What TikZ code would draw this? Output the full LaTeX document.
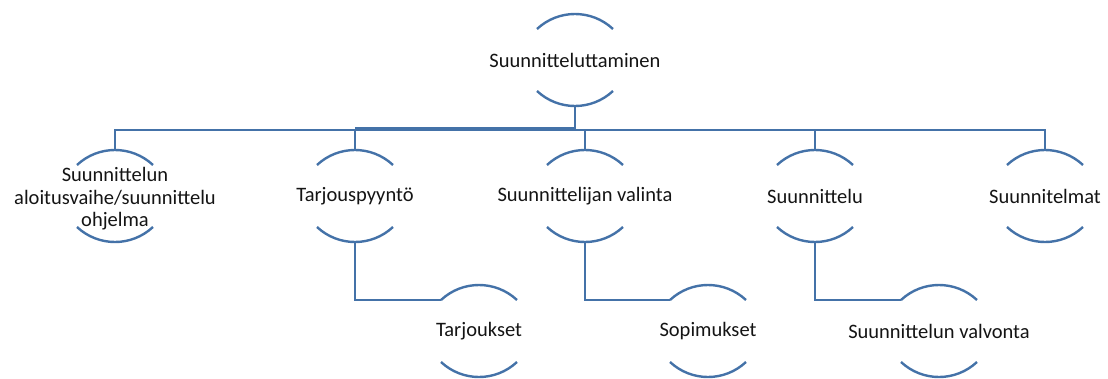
\documentclass[tikz,border=0pt]{standalone}
\usepackage{fontspec}
\setmainfont{Carlito}
\usetikzlibrary{calc}
\definecolor{lineblue}{RGB}{68,114,168}
\definecolor{txt}{RGB}{20,20,20}
\begin{document}
\begin{tikzpicture}[x=1pt,y=1pt,
  box/.style={rectangle,minimum width=76pt,minimum height=92pt,inner sep=0pt,align=center,text=txt,font=\fontsize{20.5}{22.5}\selectfont},
  arcline/.style={draw=lineblue,line width=2.4pt},
  conn/.style={draw=lineblue,line width=2.2pt}]
\useasboundingbox (0,0) rectangle (1108,-378);
\node[box] (top) at (575,-60) {Suunnitteluttaminen};
\node[box] (a) at (115,-196) {\rule{0pt}{20pt}Suunnittelun\\aloitusvaihe/suunnittelu\\ohjelma};
\node[box] (b) at (355,-196) {Tarjouspyyntö};
\node[box] (c) at (585,-196) {Suunnittelijan valinta};
\node[box] (d) at (815,-196) {Suunnittelu};
\node[box] (e) at (1045,-196) {Suunnitelmat};
\node[box] (f) at (479,-331) {Tarjoukset};
\node[box] (g) at (708,-331) {Sopimukset};
\node[box] (h) at (939,-331) {Suunnittelun valvonta};
\foreach \n in {top,a,b,c,d,e,f,g,h}{
  \draw[arcline] ($(\n.center)+(-38,31)$) arc[start angle=133.1,end angle=46.9,radius=55.6pt];
  \draw[arcline] ($(\n.center)+(-38,-31)$) arc[start angle=226.9,end angle=313.1,radius=55.6pt];
}
\coordinate (fL) at ($(f.center)+(-38,31)$);
\coordinate (gL) at ($(g.center)+(-38,31)$);
\coordinate (hL) at ($(h.center)+(-38,31)$);
\coordinate (bus) at (575,-130);
\draw[conn] (top.south) -- (bus);
\draw[conn] (a.north) |- (bus) -| (e.north);
\draw[conn] (b.north) -- (b.north |- bus);
\draw[conn] (c.north) -- (c.north |- bus);
\draw[conn] (d.north) -- (d.north |- bus);
\draw[conn] ($(b.north |- bus)+(0,1.6)$) -- ($(bus)+(0,1.6)$);
\draw[conn] (b.south) |- (fL);
\draw[conn] (c.south) |- (gL);
\draw[conn] (d.south) |- (hL);
\end{tikzpicture}
\end{document}
